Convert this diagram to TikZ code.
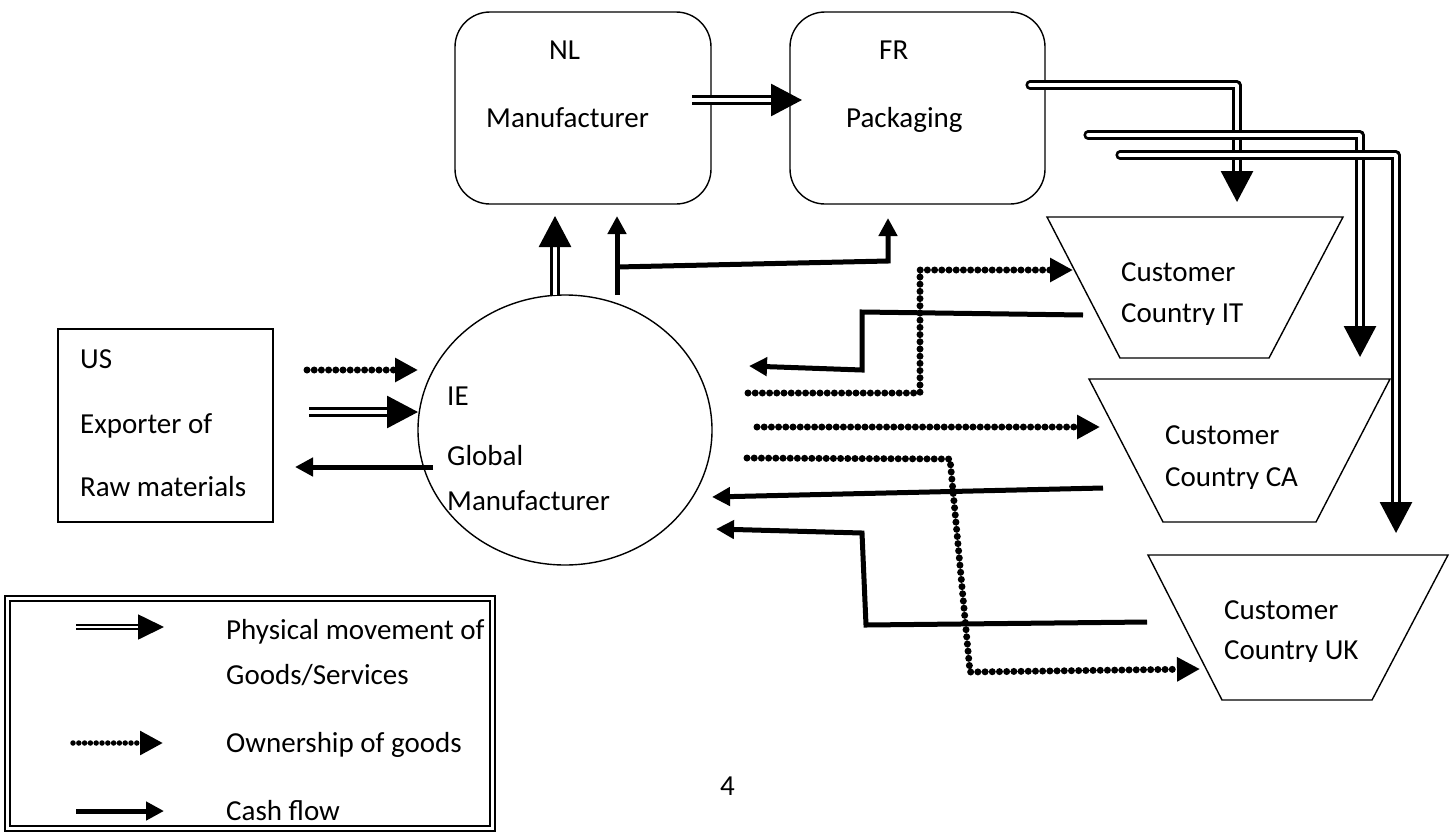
\documentclass[tikz,border=0pt]{standalone}
\usepackage{fontspec}
\setmainfont{Carlito}
\usetikzlibrary{arrows.meta,shapes.geometric}
\begin{document}
\begin{tikzpicture}[x=1pt,y=-1pt,
  shapebox/.style={draw, line width=1.4pt, inner sep=0pt},
  trap/.style={draw, line width=1.4pt, line join=miter},
  phys/.style={draw, double=white, double distance=3.6pt, line width=2.8pt, -{Triangle[width=32pt,length=31pt]}},
  physloop/.style={phys, line cap=round, line join=round},
  legphys/.style={draw, double=white, double distance=1.8pt, line width=1.7pt, -{Triangle[width=25pt,length=26pt]}},
  own/.style={draw, line width=7pt, line cap=round, dash pattern=on 0pt off 7.2pt, -{Triangle[width=23pt,length=23pt]}},
  legown/.style={own, line width=5.5pt, dash pattern=on 0pt off 5.8pt},
  cash/.style={draw, line width=5pt, -{Triangle[width=18pt,length=18pt]}},
  lbl/.style={font=\fontsize{29}{35}\selectfont, anchor=base west, inner sep=0pt}
]
\useasboundingbox (0,0) rectangle (1450,833);

% ---------- main shapes ----------
\node[shapebox, rounded corners=35pt, minimum width=256pt, minimum height=192pt] (nl) at (583,108) {};
\node[shapebox, rounded corners=35pt, minimum width=255pt, minimum height=192pt] (fr) at (917.5,108) {};
\node[shapebox, minimum width=215pt, minimum height=193pt] (us) at (165.5,425.5) {};
\node[shapebox, ellipse, minimum width=294pt, minimum height=270pt] (ie) at (565,430) {};

\draw[trap] (1047,217) -- (1343,217) -- (1269,358) -- (1120,358) -- cycle;
\draw[trap] (1089,379) -- (1390,379) -- (1316,522) -- (1163,522) -- cycle;
\draw[trap] (1148,555) -- (1448,555) -- (1372,700) -- (1222,700) -- cycle;

% ---------- texts ----------
\node[lbl] (nlc) at (549,59) {NL};
\node[lbl] (nlt) at (486,127) {Manufacturer};
\node[lbl] (frc) at (879,59) {FR};
\node[lbl] (frt) at (846,127) {Packaging};
\node[lbl] (us1) at (80,368) {US};
\node[lbl] (us2) at (80,433) {Exporter of};
\node[lbl] (us3) at (80,496) {Raw materials};
\node[lbl] (ie1) at (447,405) {IE};
\node[lbl] (ie2) at (447,465) {Global};
\node[lbl] (ie3) at (447,510) {Manufacturer};
\node[lbl] (it1) at (1121,281) {Customer};
\begin{scope}
  \clip (1110,290) rectangle (1300,324);
  \node[lbl] (it2) at (1121,322) {Country IT};
\end{scope}
\node[lbl] (ca1) at (1165,444) {Customer};
\begin{scope}
  \clip (1150,452) rectangle (1350,488);
  \node[lbl] (ca2) at (1165,486) {Country CA};
\end{scope}
\node[lbl] (uk1) at (1224,619) {Customer};
\begin{scope}
  \clip (1210,627) rectangle (1420,661);
  \node[lbl] (uk2) at (1224,659) {Country UK};
\end{scope}
\node[lbl] (pg) at (720,795) {4};

% ---------- coordinates ----------
\coordinate (nlfrA) at (692,100);
\coordinate (nlfrB) at (802,100);
\coordinate (ienlA) at (555,295);
\coordinate (ienlB) at (555,216);
\coordinate (cnlA) at (617,295);
\coordinate (cnlB) at (617,216);
\coordinate (cbr1) at (617,267);
\coordinate (cbr2) at (888,261);
\coordinate (cfrB) at (888,218);

\coordinate (f1a) at (1030,85);
\coordinate (f1b) at (1237,85);
\coordinate (f1c) at (1237,202);
\coordinate (f2a) at (1088,135);
\coordinate (f2b) at (1360,135);
\coordinate (f2c) at (1360,357);
\coordinate (f3a) at (1120,155);
\coordinate (f3b) at (1396,155);
\coordinate (f3c) at (1396,533);

\coordinate (uo1) at (307,370);  \coordinate (uo2) at (418,370);
\coordinate (up1) at (309,412);  \coordinate (up2) at (418,412);
\coordinate (uc1) at (433,467);  \coordinate (uc2) at (295,467);

\coordinate (oi1) at (748,393); \coordinate (oi2) at (920,393);
\coordinate (oi3) at (920,270); \coordinate (oi4) at (1073,270);
\coordinate (oc1) at (757,427); \coordinate (oc2) at (1100,427);
\coordinate (ou1) at (747,458); \coordinate (ou2) at (950,459);
\coordinate (ou3) at (970,672); \coordinate (ou4) at (1200,669);

\coordinate (ci1) at (1083,315); \coordinate (ci2) at (862,312);
\coordinate (ci3) at (862,370);  \coordinate (ci4) at (749,366);
\coordinate (cc1) at (1103,488); \coordinate (cc2) at (712,497);
\coordinate (cu1) at (1147,622); \coordinate (cu2) at (866,625);
\coordinate (cu3) at (862,533);  \coordinate (cu4) at (716,529);

% ---------- connectors ----------
\draw[phys] (nlfrA) -- (nlfrB);
\draw[phys] (ienlA) -- (ienlB);
\draw[cash] (cnlA) -- (cnlB);
\draw[cash] (cbr1) -- (cbr2) -- (cfrB);

\draw[physloop] (f1a) -- (f1b) -- (f1c);
\draw[physloop] (f2a) -- (f2b) -- (f2c);
\draw[physloop] (f3a) -- (f3b) -- (f3c);

\draw[own] (uo1) -- (uo2);
\draw[phys] (up1) -- (up2);
\draw[cash] (uc1) -- (uc2);

\draw[own] (oi1) -- (oi2) -- (oi3) -- (oi4);
\draw[own] (oc1) -- (oc2);
\draw[own] (ou1) -- (ou2) -- (ou3) -- (ou4);

\draw[cash] (ci1) -- (ci2) -- (ci3) -- (ci4);
\draw[cash] (cc1) -- (cc2);
\draw[cash] (cu1) -- (cu2) -- (cu3) -- (cu4);

% ---------- legend ----------
\node[draw, double=white, double distance=3.2pt, line width=1.5pt, minimum width=485pt, minimum height=230pt, inner sep=0pt] (legend) at (250,713.5) {};
\coordinate (lp1) at (76,627);  \coordinate (lp2) at (164,627);
\coordinate (lo1) at (73,743);  \coordinate (lo2) at (163,743);
\coordinate (lc1) at (76,811);  \coordinate (lc2) at (164,811);
\draw[legphys] (lp1) -- (lp2);
\draw[legown] (lo1) -- (lo2);
\draw[cash] (lc1) -- (lc2);
\node[lbl] (lt1) at (226,639) {Physical movement of};
\node[lbl] (lt2) at (226,684) {Goods/Services};
\node[lbl] (lt3) at (226,752) {Ownership of goods};
\node[lbl] (lt4) at (226,820) {Cash flow};
\end{tikzpicture}
\end{document}
